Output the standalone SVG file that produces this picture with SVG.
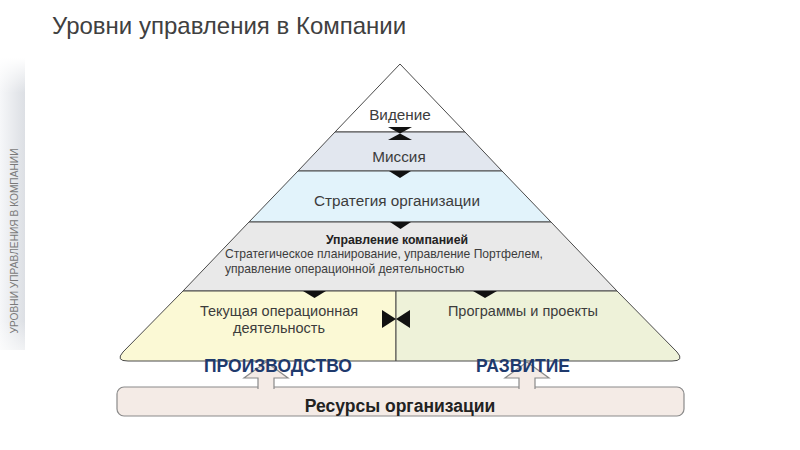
<svg xmlns="http://www.w3.org/2000/svg" width="800" height="450" viewBox="0 0 800 450">
<defs>
<linearGradient id="strip" x1="0" y1="0" x2="1" y2="0">
<stop offset="0" stop-color="#f6f7f9"/>
<stop offset="1" stop-color="#dcdfe4"/>
</linearGradient>
<linearGradient id="stripv" x1="0" y1="0" x2="0" y2="1">
<stop offset="0" stop-color="#fff" stop-opacity="1"/>
<stop offset="0.12" stop-color="#fff" stop-opacity="0"/>
<stop offset="0.9" stop-color="#fff" stop-opacity="0"/>
<stop offset="1" stop-color="#fff" stop-opacity="0.6"/>
</linearGradient>
</defs>
<style>
text{font-family:"Liberation Sans",Arial,sans-serif;fill:#3c3c3c}
.band{stroke:#4a4a4a;stroke-width:1}
.lbl{font-size:15.3px;text-anchor:middle}
.sm{font-size:12.1px}
.bt{font-size:14.5px;text-anchor:middle}
.hd{font-size:17.5px;font-weight:bold;fill:#1f3a6d;text-anchor:middle}
.tri{fill:#111}
.blk{fill:#f4ebe6;stroke:#8a8a8a;stroke-width:1.2}
</style>
<rect width="800" height="450" fill="#fff"/>
<g id="side">
<rect x="0" y="58" width="25" height="292" fill="url(#strip)"/>
<rect x="0" y="58" width="25" height="292" fill="url(#stripv)"/>
<text transform="translate(17.5,241) rotate(-90)" text-anchor="middle" style="font-size:10.2px;fill:#7a7a7a">УРОВНИ УПРАВЛЕНИЯ В КОМПАНИИ</text>
</g>
<text id="title" x="52" y="34" style="font-size:24px;fill:#404040">Уровни управления в Компании</text>

<g id="vision">
<polygon class="band" points="400,64 465,132 335,132" fill="#ffffff"/>
<text class="lbl" x="400" y="120">Видение</text>
</g>
<g id="mission">
<polygon class="band" points="335,132 465,132 502,171 298,171" fill="#e2e7ef"/>
<text class="lbl" x="399" y="162">Миссия</text>
</g>
<g id="strategy">
<polygon class="band" points="298,171 502,171 551,222 249,222" fill="#e2f3fb"/>
<text class="lbl" x="397" y="206">Стратегия организации</text>
</g>
<g id="management">
<polygon class="band" points="249,222 551,222 617,291 183,291" fill="#e9e9e9"/>
<text x="397" y="244" text-anchor="middle" style="font-size:12.3px;font-weight:bold;fill:#222">Управление компанией</text>
<text class="sm" x="225" y="258">Стратегическое планирование, управление Портфелем,</text>
<text class="sm" x="225" y="273">управление операционной деятельностью</text>
</g>
<g id="production">
<path class="band" d="M183,291 L396,291 L396,361 L128,361 Q115,361 123,352 Z" fill="#fbf9d5"/>
<text class="bt" x="279" y="316">Текущая операционная</text>
<text class="bt" x="279" y="333">деятельность</text>
</g>
<g id="development">
<path class="band" d="M396,291 L617,291 L677,352 Q685,361 672,361 L396,361 Z" fill="#eef2d9"/>
<text class="bt" x="523" y="316">Программы и проекты</text>
</g>
<g id="resources">
<rect x="117" y="387" width="567" height="29" rx="7" fill="#f4ebe6" stroke="#8a8a8a" stroke-width="1.2"/>
<text x="400" y="412" text-anchor="middle" style="font-size:17.5px;font-weight:bold;fill:#222">Ресурсы организации</text>
</g>

<g id="connectors">
<polygon class="tri" points="388,127 412,127 400,133.5"/>
<polygon class="tri" points="388,140 412,140 400,133.5"/>
<polygon class="tri" points="389,171 411,171 400,178"/>
<polygon class="tri" points="390,222 411,222 400.5,229"/>
<polygon class="tri" points="303,291 326,291 314.5,298"/>
<polygon class="tri" points="473,291 497,291 485,298"/>
<polygon class="tri" points="382,310 382,328 396,319"/>
<polygon class="tri" points="410,310 410,328 396,319"/>
<path class="blk" d="M258,389 L258,378 L244,378 L266,362 L288,378 L274,378 L274,389"/>
<path class="blk" d="M519,389 L519,378 L505,378 L527,362 L549,378 L535,378 L535,389"/>
</g>
<g id="labels">
<text class="hd" x="278" y="372">ПРОИЗВОДСТВО</text>
<text class="hd" x="523" y="372">РАЗВИТИЕ</text>
</g>
</svg>
